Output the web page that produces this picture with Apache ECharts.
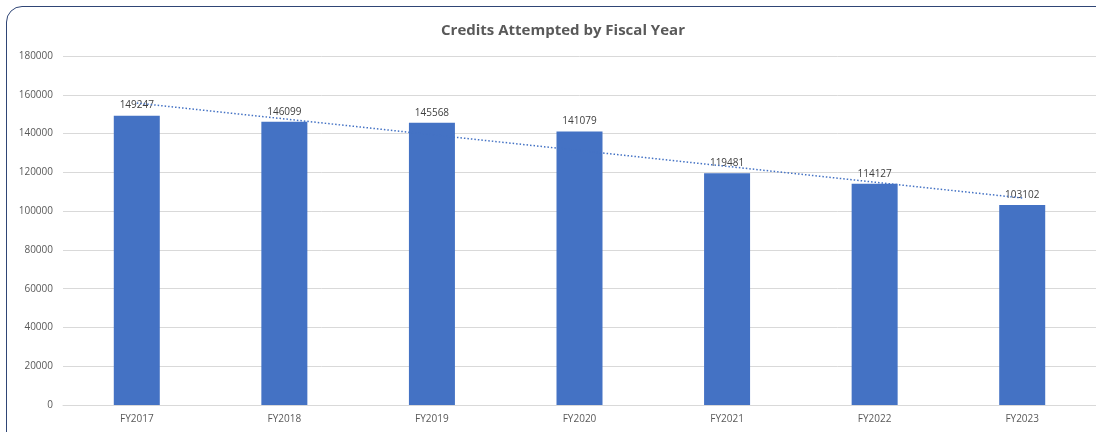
<!DOCTYPE html>
<html>
<head>
<meta charset="utf-8">
<script src="https://cdn.jsdelivr.net/npm/echarts@6/dist/echarts.min.js"></script>
<style>
  html, body { margin: 0; padding: 0; background: #ffffff; overflow: hidden; }
  #wrap { position: relative; width: 1096px; height: 432px; overflow: hidden; background: #ffffff; }
  #frame {
    position: absolute; left: 6px; top: 6px; width: 1110px; height: 450px;
    border: 1.5px solid #2F4575; border-radius: 16px; box-sizing: border-box;
    pointer-events: none; z-index: 2;
  }
  #chart { position: absolute; left: 0; top: 0; width: 1096px; height: 432px; }
</style>
</head>
<body>
<div id="wrap">
  <div id="chart"></div>
  <div id="frame"></div>
</div>
<script>
// Fiscal years and credits attempted
const years = ['FY2017', 'FY2018', 'FY2019', 'FY2020', 'FY2021', 'FY2022', 'FY2023'];
const credits = [149247, 146099, 145568, 141079, 119481, 114127, 103102];
const yTicks = [0, 20000, 40000, 60000, 80000, 100000, 120000, 140000, 160000, 180000];

// Least-squares linear trend over the category index
function linearTrend(vals) {
  const n = vals.length;
  let sx = 0, sy = 0, sxx = 0, sxy = 0;
  vals.forEach((v, i) => { const x = i + 1; sx += x; sy += v; sxx += x * x; sxy += x * v; });
  const slope = (n * sxy - sx * sy) / (n * sxx - sx * sx);
  const icpt = (sy - slope * sx) / n;
  return vals.map((_, i) => slope * (i + 1) + icpt);
}
const trend = linearTrend(credits);

const font = 'Open Sans, Liberation Sans, sans-serif';
const chart = echarts.init(document.getElementById('chart'), null, { renderer: 'canvas' });
chart.setOption({
  backgroundColor: '#ffffff',
  animation: false,
  title: {
    text: 'Credits Attempted by Fiscal Year',
    left: 558, top: 18, textAlign: 'center',
    textStyle: { fontFamily: font, fontSize: 15, fontWeight: 'bold', color: '#595959' }
  },
  grid: { left: 63, right: 0, top: 56, bottom: 27, containLabel: false },
  xAxis: {
    type: 'category',
    data: years,
    axisLine: { lineStyle: { color: '#D9D9D9', width: 1 } },
    axisTick: { show: false },
    axisLabel: { color: '#595959', fontFamily: font, fontSize: 10, margin: 9 }
  },
  yAxis: {
    type: 'value',
    min: yTicks[0], max: yTicks[yTicks.length - 1], interval: yTicks[1] - yTicks[0],
    axisLine: { show: false },
    axisTick: { show: false },
    splitLine: { lineStyle: { color: '#D9D9D9', width: 1 } },
    axisLabel: { color: '#595959', fontFamily: font, fontSize: 10, margin: 10, formatter: v => String(v) }
  },
  series: [
    {
      type: 'bar',
      data: credits,
      barWidth: 46,
      itemStyle: { color: '#4472C4' },
      label: {
        show: true, position: 'top', distance: 5,
        color: '#404040', fontFamily: font, fontSize: 10
      },
      z: 2
    },
    {
      type: 'line',
      data: trend,
      symbol: 'none',
      silent: true,
      lineStyle: { color: '#4472C4', width: 1.5, type: [1.5, 2] },
      z: 3
    }
  ]
});
</script>
</body>
</html>
